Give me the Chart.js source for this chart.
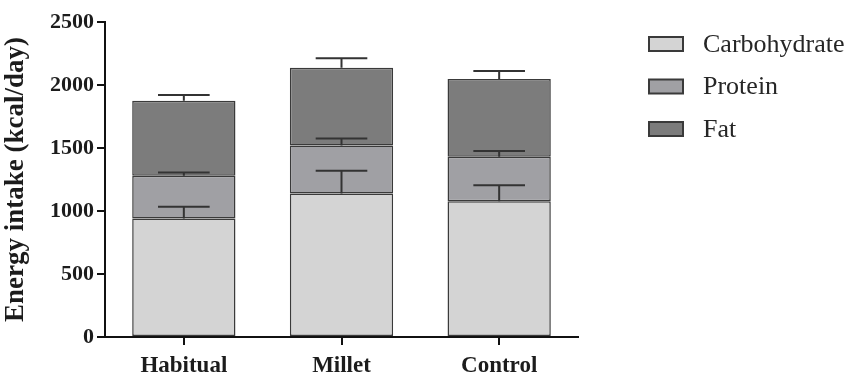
<!DOCTYPE html>
<html>
<head>
<meta charset="utf-8">
<script src="https://cdn.jsdelivr.net/npm/chart.js@4.4.1/dist/chart.umd.min.js"></script>
<style>
  html, body { margin: 0; padding: 0; background: #fff; overflow: hidden; }
  #wrap { width: 848px; height: 372px; }
</style>
</head>
<body>
<div id="wrap"><canvas id="chart" width="848" height="372"></canvas></div>
<script>
// Daily energy intake by diet group, split by macronutrient (kcal/day)
const groups = ['Habitual', 'Millet', 'Control'];
const carbohydrate = [941, 1139, 1078];
const protein = [338, 381, 352];
const fat = [596, 617, 617];
// standard deviations, drawn upward from the top of each segment
const carbohydrateSD = [92, 180, 127];
const proteinSD = [27, 56, 47];
const fatSD = [45, 75, 64];
const yTicks = [0, 500, 1000, 1500, 2000, 2500];

const serif = "'Liberation Serif', 'Times New Roman', serif";
const ink = '#1c1c1c';
const edge = '#3a3a3a';

// upward-only error bars with a cap half as wide as the bar
const errorBars = {
  id: 'errorBars',
  afterDatasetsDraw(chart) {
    const ctx = chart.ctx;
    const y = chart.scales.y;
    const totals = groups.map(() => 0);
    chart.data.datasets.forEach((ds, i) => {
      const meta = chart.getDatasetMeta(i);
      meta.data.forEach((bar, j) => {
        totals[j] += ds.data[j];
        const x = bar.x;
        const yBase = y.getPixelForValue(totals[j]);
        const yTop = y.getPixelForValue(totals[j] + ds.sd[j]);
        const half = bar.width / 4;
        ctx.save();
        ctx.strokeStyle = '#333';
        ctx.lineWidth = 2;
        ctx.beginPath();
        ctx.moveTo(x, yBase);
        ctx.lineTo(x, yTop);
        ctx.moveTo(x - half, yTop);
        ctx.lineTo(x + half, yTop);
        ctx.stroke();
        ctx.restore();
      });
    });
  }
};

// legend block to the right of the plot
const sideLegend = {
  id: 'sideLegend',
  afterDraw(chart, args, opts) {
    const ctx = chart.ctx;
    const area = chart.chartArea;
    const left = area.right + opts.offsetX;
    chart.data.datasets.forEach((ds, i) => {
      const cy = area.top + opts.firstY + i * opts.rowGap;
      ctx.save();
      ctx.fillStyle = ds.backgroundColor;
      ctx.strokeStyle = edge;
      ctx.lineWidth = 2;
      ctx.fillRect(left, cy - opts.boxH / 2, opts.boxW, opts.boxH);
      ctx.strokeRect(left, cy - opts.boxH / 2, opts.boxW, opts.boxH);
      ctx.fillStyle = '#262626';
      ctx.font = opts.font;
      ctx.textBaseline = 'middle';
      ctx.textAlign = 'left';
      ctx.fillText(ds.label, left + opts.boxW + opts.gap, cy + 1);
      ctx.restore();
    });
  }
};

new Chart(document.getElementById('chart'), {
  type: 'bar',
  data: {
    labels: groups,
    datasets: [
      { label: 'Carbohydrate', data: carbohydrate, sd: carbohydrateSD, backgroundColor: '#d4d4d4' },
      { label: 'Protein', data: protein, sd: proteinSD, backgroundColor: '#a0a0a4' },
      { label: 'Fat', data: fat, sd: fatSD, backgroundColor: '#7c7c7c' }
    ].map(d => Object.assign(d, {
      borderColor: edge,
      borderWidth: 1.5,
      borderSkipped: false,
      barPercentage: 0.655,
      categoryPercentage: 1.0
    }))
  },
  options: {
    responsive: false,
    animation: false,
    devicePixelRatio: 1,
    layout: { padding: { top: 22, right: 270, left: 0, bottom: 0 } },
    plugins: {
      legend: { display: false },
      tooltip: { enabled: false },
      sideLegend: {
        offsetX: 71, firstY: 22, rowGap: 42.5,
        boxW: 34, boxH: 14, gap: 20,
        font: "26px " + serif
      }
    },
    scales: {
      x: {
        stacked: true,
        grid: { display: true, offset: false, drawOnChartArea: false, drawTicks: true,
                tickLength: 8, color: '#111', lineWidth: 2 },
        border: { display: true, color: '#111', width: 2 },
        ticks: { color: ink, padding: 7, font: { family: serif, size: 23, weight: 'bold' } },
        afterFit(scale) { scale.height = 35; }
      },
      y: {
        stacked: true,
        min: 0,
        max: 2500,
        afterBuildTicks(scale) { scale.ticks = yTicks.map(v => ({ value: v })); },
        grid: { display: true, drawOnChartArea: false, drawTicks: true,
                tickLength: 8, color: '#111', lineWidth: 2 },
        border: { display: true, color: '#111', width: 2 },
        ticks: {
          color: ink, padding: 3,
          font: { family: serif, size: 22, weight: 'bold' },
          callback: v => String(v)
        },
        title: {
          display: true,
          text: 'Energy intake (kcal/day)',
          color: ink,
          padding: { top: 0, bottom: 2 },
          font: { family: serif, size: 27, weight: 'bold' }
        },
        afterFit(scale) { scale.width = 105; }
      }
    }
  },
  plugins: [errorBars, sideLegend]
});
</script>
</body>
</html>
